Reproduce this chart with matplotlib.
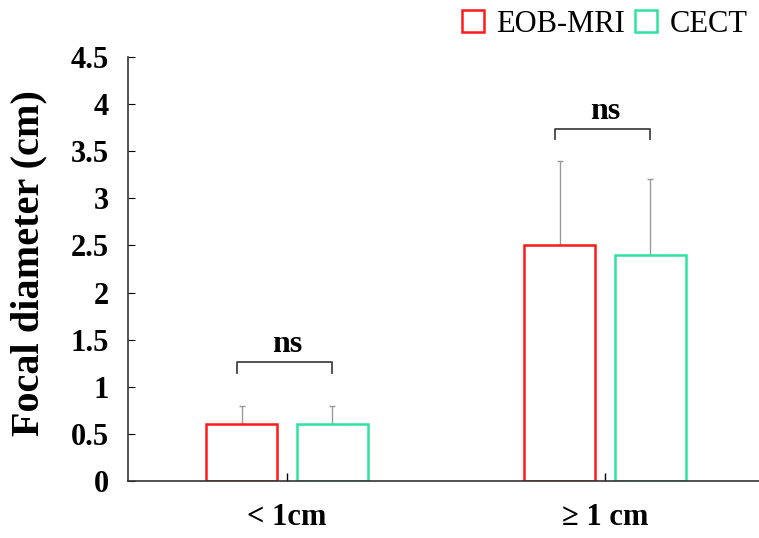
import matplotlib.pyplot as plt
import numpy as np

# data
groups = ["< 1cm", "\u2265 1 cm"]
series = ["EOB-MRI", "CECT"]
mri_mean = [0.6, 2.5]
mri_sd = [0.2, 0.9]
cect_mean = [0.6, 2.4]
cect_sd = [0.2, 0.8]
sig_labels = ["ns", "ns"]
bracket_y = [1.26, 3.74]

plt.rcParams["font.family"] = ["Liberation Serif", "DejaVu Serif"]

fig = plt.figure(figsize=(7.59, 5.38), dpi=100)
ax = fig.add_axes([128 / 759, 1 - 481 / 538, 1 - 128 / 759, (481 - 57) / 538])

x = np.arange(len(groups))
w = 0.223
off = 0.143
colors = ["#ff1a1a", "#2ee3a0"]

for i, (vals, sds) in enumerate([(mri_mean, mri_sd), (cect_mean, cect_sd)]):
    pos = x + (-off if i == 0 else off)
    ax.bar(pos, vals, width=w, facecolor="white", edgecolor=colors[i],
           linewidth=1.8, label=series[i], zorder=2)
    ax.errorbar(pos, vals, yerr=[np.zeros(len(vals)), sds], fmt="none",
                ecolor="#999999", elinewidth=1.0, capsize=2, capthick=1.0,
                zorder=1)

# significance brackets
for xi, yb, lab in zip(x, bracket_y, sig_labels):
    x0, x1 = xi - off - 0.015, xi + off
    ax.plot([x0, x0, x1, x1], [yb - 0.11, yb, yb, yb - 0.11],
            color="#444444", lw=1.3)
    ax.text(xi, yb + 0.03, lab, ha="center", va="bottom",
            fontsize=23, fontweight="bold")

ax.set_xlim(-0.5, 1.5 - 5 / 318)
ax.set_ylim(0, 4.5)
ax.set_yticks(np.arange(0, 4.51, 0.5))
ax.set_yticklabels(["0", "0.5", "1", "1.5", "2", "2.5", "3", "3.5", "4", "4.5"],
                   fontsize=22, fontweight="bold")
ax.set_xticks(x)
ax.set_xticklabels(groups, fontsize=22, fontweight="bold")
ax.tick_params(axis="y", direction="in", length=5, width=0.8, pad=14)
ax.tick_params(axis="x", direction="in", length=6, width=1.0, pad=16)
ax.set_ylabel("Focal diameter (cm)", fontsize=29, fontweight="bold")
ax.yaxis.set_label_coords(-0.127, 0.513)

for s in ["top", "right"]:
    ax.spines[s].set_visible(False)
for s in ["left", "bottom"]:
    ax.spines[s].set_color("#333333")
    ax.spines[s].set_linewidth(1.2)

leg = fig.legend(loc="upper right", bbox_to_anchor=(1.013, 1.022), ncol=2,
                 frameon=False, fontsize=22, handlelength=0.72, handleheight=0.72,
                 handletextpad=0.4, columnspacing=0.33, borderaxespad=0.3)

fig.savefig("out.png", dpi=100)
